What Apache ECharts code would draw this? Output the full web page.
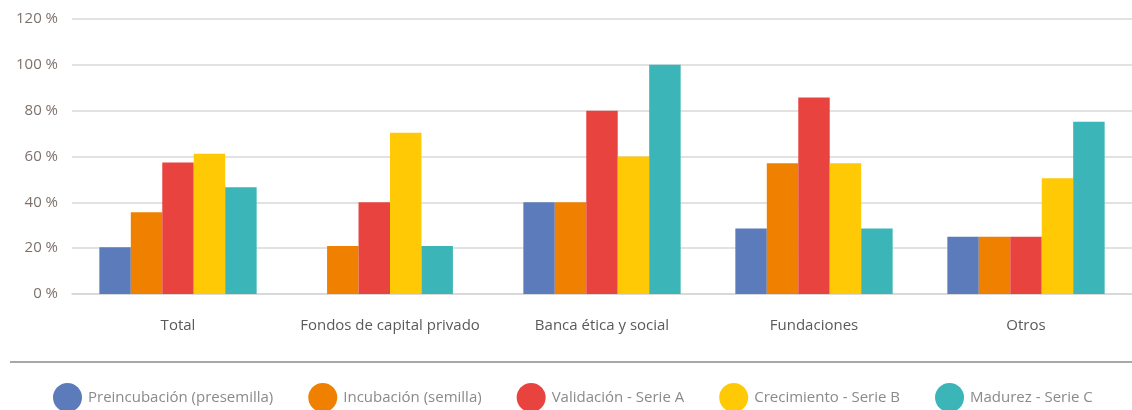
<!DOCTYPE html>
<html>
<head>
<meta charset="utf-8">
<script src="https://cdn.jsdelivr.net/npm/echarts@6/dist/echarts.min.js"></script>
<style>
  html, body { margin: 0; padding: 0; background: #ffffff; }
  #chart { width: 1132px; height: 410px; }
</style>
</head>
<body>
<div id="chart"></div>
<script>
// Investor types (x categories)
const categories = ['Total', 'Fondos de capital privado', 'Banca ética y social', 'Fundaciones', 'Otros'];

// Stage names (legend)
const stageNames = [
  'Preincubación (presemilla)',
  'Incubación (semilla)',
  'Validación - Serie A',
  'Crecimiento - Serie B',
  'Madurez - Serie C'
];

// Percentage per stage, one value per category (null = no bar)
const preincubacion = [20.4, null, 40, 28.6, 25];
const incubacion    = [35.7, 21, 40, 57.1, 25];
const validacion    = [57.4, 40, 80, 85.7, 25];
const crecimiento   = [61.2, 70.4, 60, 57.1, 50.5];
const madurez       = [46.6, 21, 100, 28.6, 75.2];

const yTicks = { min: 0, max: 120, interval: 20 };

const stageData = [preincubacion, incubacion, validacion, crecimiento, madurez];
const stageColors = ['#5b7bbb', '#ef8000', '#e8433f', '#ffca05', '#3bb5b7'];

const chart = echarts.init(document.getElementById('chart'), null, { renderer: 'canvas' });

// Bars of a group are packed side by side and centred on the category,
// skipping stages that have no value for that category.
function makeRenderer(seriesIdx) {
  return function (params, api) {
    const cat = api.value(0);
    const val = api.value(1);
    if (val == null || isNaN(val)) return;
    const present = stageData.map(arr => arr[cat] != null);
    const n = present.filter(Boolean).length;
    let pos = 0;
    for (let k = 0; k < seriesIdx; k++) if (present[k]) pos++;
    const band = api.size([1, 0])[0];
    const bw = band * 0.742 / stageData.length;
    const top = api.coord([cat, val]);
    const base = api.coord([cat, 0]);
    const x = top[0] - n * bw / 2 + pos * bw;
    return {
      type: 'rect',
      shape: { x: x, y: top[1], width: bw, height: base[1] - top[1] },
      style: { fill: api.visual('color') }
    };
  };
}

const series = stageNames.map((name, s) => ({
  name: name,
  type: 'custom',
  renderItem: makeRenderer(s),
  itemStyle: { color: stageColors[s] },
  encode: { x: 0, y: 1 },
  data: stageData[s].map((v, i) => [i, v])
}));

chart.setOption({
  animation: false,
  backgroundColor: '#ffffff',
  textStyle: { fontFamily: '"Open Sans", sans-serif' },
  grid: { left: 72, right: 0, top: 19, bottom: 116 },
  xAxis: {
    type: 'category',
    data: categories,
    axisLine: { show: true, lineStyle: { color: '#d6d6d6', width: 1.5 } },
    axisTick: { show: false },
    axisLabel: { color: '#5a5a5a', fontSize: 15, margin: 24, interval: 0 }
  },
  yAxis: {
    type: 'value',
    min: yTicks.min,
    max: yTicks.max,
    interval: yTicks.interval,
    axisLine: { show: false },
    axisTick: { show: false },
    splitLine: { lineStyle: { color: '#d9d9d9', width: 1.5 } },
    axisLabel: { color: '#7d716c', fontSize: 15, margin: 14, formatter: '{value} %' }
  },
  legend: {
    left: 53,
    top: 383,
    padding: 0,
    icon: 'circle',
    itemWidth: 29,
    itemHeight: 29,
    itemGap: 35,
    textStyle: { color: '#8a8a8a', fontSize: 15, padding: [0, 0, 0, 1] },
    data: stageNames
  },
  graphic: [{
    type: 'line',
    shape: { x1: 10, y1: 362, x2: 1132, y2: 362 },
    style: { stroke: '#a8a8a8', lineWidth: 2 }
  }],
  series: series
});
</script>
</body>
</html>
